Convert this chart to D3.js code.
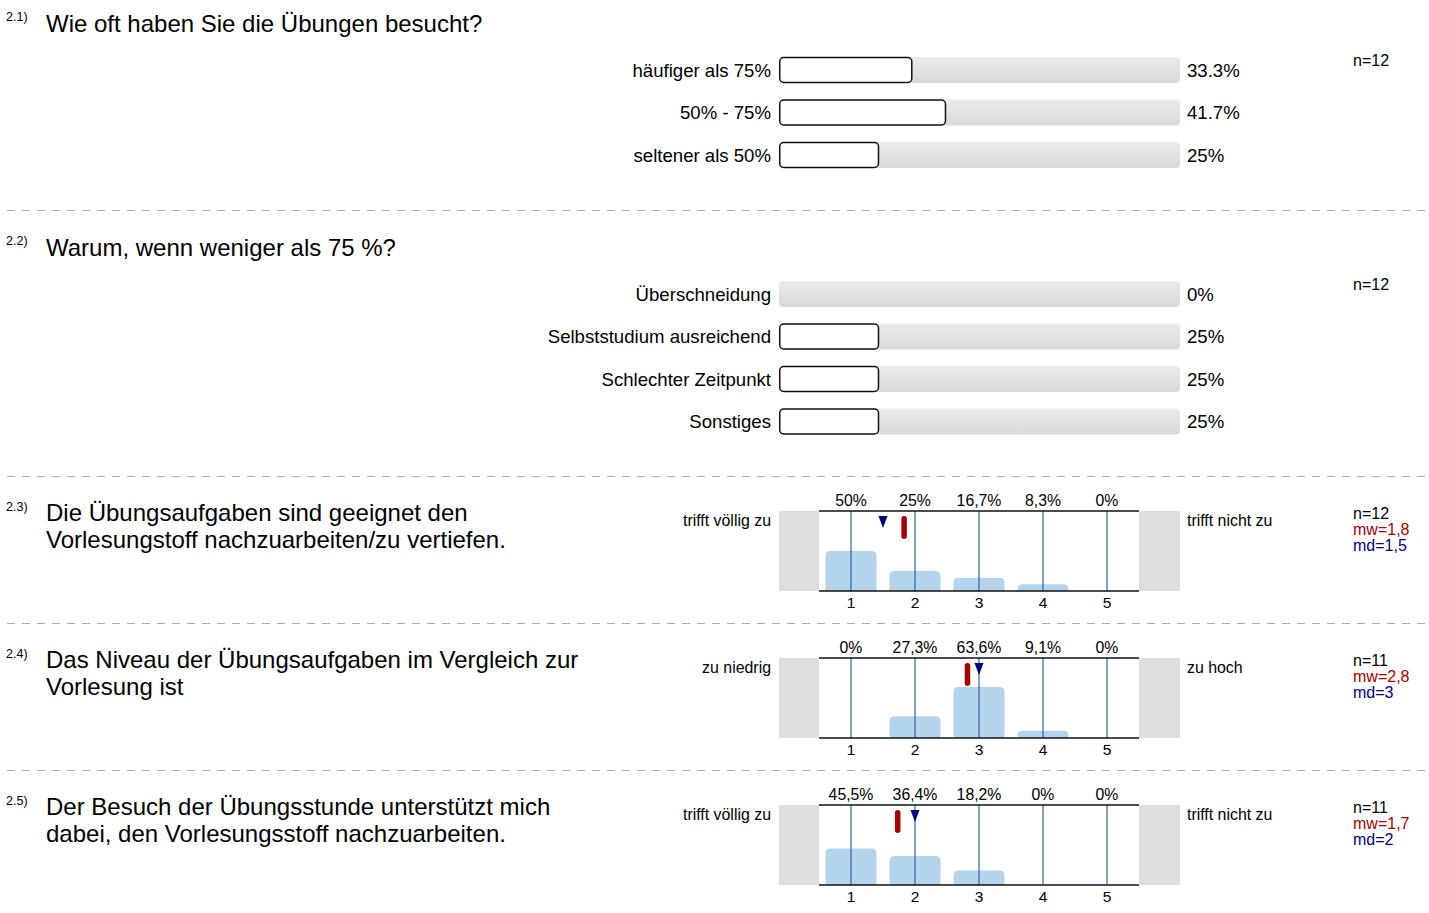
<!DOCTYPE html>
<html><head><meta charset="utf-8">
<script src="https://cdn.jsdelivr.net/npm/d3@7"></script>
<style>body{margin:0;background:#fff}svg{display:block;font-family:"Liberation Sans",Arial,sans-serif}</style>
</head><body>
<script>
// ---- data ----
const sectionNumbers = ["2.1)", "2.2)", "2.3)", "2.4)", "2.5)"];
const sectionTitles = [
  ["Wie oft haben Sie die Übungen besucht?"],
  ["Warum, wenn weniger als 75 %?"],
  ["Die Übungsaufgaben sind geeignet den", "Vorlesungstoff nachzuarbeiten/zu vertiefen."],
  ["Das Niveau der Übungsaufgaben im Vergleich zur", "Vorlesung ist"],
  ["Der Besuch der Übungsstunde unterstützt mich", "dabei, den Vorlesungsstoff nachzuarbeiten."]
];
const q1Labels = ["häufiger als 75%", "50% - 75%", "seltener als 50%"];
const q1Values = [33.3, 41.7, 25];
const q1Texts = ["33.3%", "41.7%", "25%"];
const q1N = 12;
const q2Labels = ["Überschneidung", "Selbststudium ausreichend", "Schlechter Zeitpunkt", "Sonstiges"];
const q2Values = [0, 25, 25, 25];
const q2Texts = ["0%", "25%", "25%", "25%"];
const q2N = 12;
const scaleCategories = [1, 2, 3, 4, 5];
const q3Pct = [50, 25, 16.7, 8.3, 0];
const q3Texts = ["50%", "25%", "16,7%", "8,3%", "0%"];
const q4Pct = [0, 27.3, 63.6, 9.1, 0];
const q4Texts = ["0%", "27,3%", "63,6%", "9,1%", "0%"];
const q5Pct = [45.5, 36.4, 18.2, 0, 0];
const q5Texts = ["45,5%", "36,4%", "18,2%", "0%", "0%"];
const scaleLeftLabels = ["trifft völlig zu", "zu niedrig", "trifft völlig zu"];
const scaleRightLabels = ["trifft nicht zu", "zu hoch", "trifft nicht zu"];
const scaleN = [12, 11, 11];
const scaleMean = [1.83, 2.82, 1.73];
const scaleMeanText = ["mw=1,8", "mw=2,8", "mw=1,7"];
const scaleMedian = [1.5, 3, 2];
const scaleMedianText = ["md=1,5", "md=3", "md=2"];

// ---- layout ----
const W = 1429, H = 913;
const svg = d3.select("body").append("svg").attr("width", W).attr("height", H);
const sepY = [-14, 210, 476, 623, 770];

const defs = svg.append("defs");
const grad = defs.append("linearGradient").attr("id", "trk").attr("x1", 0).attr("y1", 0).attr("x2", 0).attr("y2", 1);
grad.append("stop").attr("offset", "0%").attr("stop-color", "#ebebeb");
grad.append("stop").attr("offset", "100%").attr("stop-color", "#d9d9d9");

// separators
svg.selectAll("line.sep").data(sepY.slice(1)).join("line")
  .attr("x1", 7).attr("x2", W).attr("y1", d => d + 0.5).attr("y2", d => d + 0.5)
  .attr("stroke", "#ababab").attr("stroke-width", 1).attr("stroke-dasharray", "8,7");

// headings
sepY.forEach((s, i) => {
  svg.append("text").attr("x", 6).attr("y", s + 35).attr("font-size", 12.5).text(sectionNumbers[i]);
  const lines = sectionTitles[i];
  lines.forEach((t, j) => {
    const yy = lines.length === 1 ? s + 46 : s + 45 + j * 27;
    svg.append("text").attr("x", 46).attr("y", yy).attr("font-size", 24).text(t);
  });
});

// horizontal percentage bars
const xH = d3.scaleLinear().domain([0, 100]).range([779, 1180]);
function hbars(s, labels, values, texts, n) {
  const g = svg.append("g");
  const y0 = s + 84;
  const yc = i => y0 + i * 42.5;
  labels.forEach((lab, i) => {
    const c = yc(i);
    g.append("rect").attr("x", xH(0)).attr("y", c - 13).attr("width", xH(100) - xH(0)).attr("height", 26)
      .attr("rx", 4).attr("fill", "url(#trk)");
    if (values[i] > 0) {
      g.append("rect").attr("x", xH(0) + 0.75).attr("y", c - 12.5).attr("width", xH(values[i]) - xH(0) - 1.5).attr("height", 25)
        .attr("rx", 4).attr("fill", "#fff").attr("stroke", "#111").attr("stroke-width", 1.5);
    }
    g.append("text").attr("x", 771).attr("y", c + 6.5).attr("text-anchor", "end").attr("font-size", 18.6).text(lab);
    g.append("text").attr("x", 1187).attr("y", c + 6.5).attr("font-size", 18.6).text(texts[i]);
  });
  g.append("text").attr("x", 1353).attr("y", s + 80).attr("font-size", 16).text("n=" + n);
}
hbars(sepY[0], q1Labels, q1Values, q1Texts, q1N);
hbars(sepY[1], q2Labels, q2Values, q2Texts, q2N);

// scale histograms
const x = d3.scaleLinear().domain([0.5, 5.5]).range([819, 1139]);
function scaleChart(k, s, pct, texts) {
  const g = svg.append("g");
  const top = s + 35, bot = top + 80;
  const y = d3.scaleLinear().domain([0, 100]).range([bot, top]);
  g.append("rect").attr("x", 779).attr("y", top).attr("width", x(0.5) - 779).attr("height", bot - top).attr("fill", "#dedede");
  g.append("rect").attr("x", x(5.5)).attr("y", top).attr("width", 1180 - x(5.5)).attr("height", bot - top).attr("fill", "#dedede");
  const bw = 51, r = 5;
  scaleCategories.forEach((c, i) => {
    if (pct[i] <= 0) return;
    const x0 = x(c) - bw / 2, x1 = x(c) + bw / 2, yt = y(pct[i]);
    const rr = Math.min(r, bot - yt);
    g.append("path").attr("fill", "#b4d4eb")
      .attr("d", `M${x0},${bot}V${yt + rr}Q${x0},${yt} ${x0 + rr},${yt}H${x1 - rr}Q${x1},${yt} ${x1},${yt + rr}V${bot}Z`);
  });
  g.selectAll("line.v").data(scaleCategories).join("line")
    .attr("x1", d => x(d)).attr("x2", d => x(d)).attr("y1", top).attr("y2", bot)
    .attr("stroke", "#2a64a2").attr("stroke-width", 1.2);
  [top, bot].forEach(yy => g.append("line").attr("x1", x(0.5)).attr("x2", x(5.5)).attr("y1", yy).attr("y2", yy)
    .attr("stroke", "#111").attr("stroke-width", 1.6));
  g.selectAll("text.p").data(scaleCategories).join("text")
    .attr("x", d => x(d)).attr("y", top - 5.5).attr("text-anchor", "middle").attr("font-size", 15.8)
    .text((d, i) => texts[i]);
  g.selectAll("text.a").data(scaleCategories).join("text")
    .attr("x", d => x(d)).attr("y", bot + 17).attr("text-anchor", "middle").attr("font-size", 15.5)
    .text(d => d);
  // mean marker
  g.append("rect").attr("x", x(scaleMean[k]) - 2.75).attr("y", top + 5).attr("width", 5.5).attr("height", 23)
    .attr("rx", 2.75).attr("fill", "#a50000");
  // median marker
  const mx = x(scaleMedian[k]);
  g.append("path").attr("d", `M${mx - 4.5},${top + 5}L${mx + 4.5},${top + 5}L${mx},${top + 17}Z`).attr("fill", "#000080");
  g.append("text").attr("x", 771).attr("y", top + 15).attr("text-anchor", "end").attr("font-size", 15.9).text(scaleLeftLabels[k]);
  g.append("text").attr("x", 1187).attr("y", top + 15).attr("font-size", 15.9).text(scaleRightLabels[k]);
  g.append("text").attr("x", 1353).attr("y", top + 8).attr("font-size", 16).text("n=" + scaleN[k]);
  g.append("text").attr("x", 1353).attr("y", top + 24).attr("font-size", 16).attr("fill", "#a50000").text(scaleMeanText[k]);
  g.append("text").attr("x", 1353).attr("y", top + 40).attr("font-size", 16).attr("fill", "#000080").text(scaleMedianText[k]);
}
scaleChart(0, sepY[2], q3Pct, q3Texts);
scaleChart(1, sepY[3], q4Pct, q4Texts);
scaleChart(2, sepY[4], q5Pct, q5Texts);
</script>
</body></html>
